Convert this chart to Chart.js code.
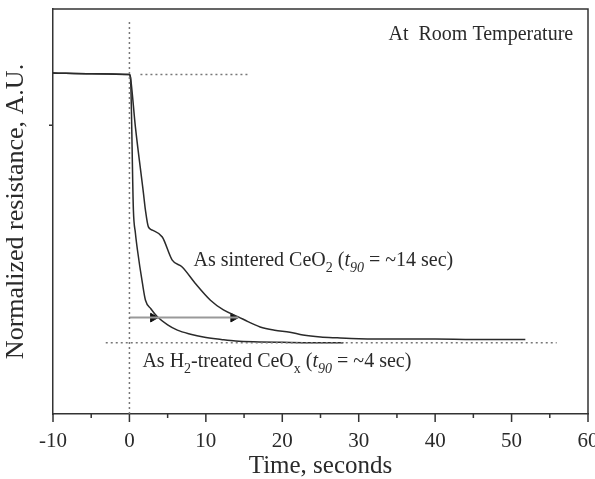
<!DOCTYPE html>
<html>
<head>
<meta charset="utf-8">
<script src="https://cdn.jsdelivr.net/npm/chart.js@4/dist/chart.umd.min.js"></script>
<style>
  html, body { margin: 0; padding: 0; background: #fff; }
  #wrap { width: 595px; height: 479px; }
</style>
</head>
<body>
<div id="wrap"><canvas id="c"></canvas></div>
<script>
// values (y is normalized resistance, arbitrary units 0..1)
const xTicks = [-10, 0, 10, 20, 30, 40, 50, 60];
const yTickAt = 0.713;

const h2Time = [-10, -5, 0, 0.13, 0.52, 0.78, 1.05, 1.7, 2.1, 2.8, 3.66, 5, 6.27, 8, 9.67, 12, 13.9, 17, 20, 24, 28];
const h2Res  = [0.842, 0.840, 0.838, 0.832, 0.503, 0.447, 0.405, 0.323, 0.281, 0.26, 0.240, 0.22, 0.207, 0.197, 0.190, 0.184, 0.180, 0.178, 0.177, 0.176, 0.176];

const sinTime = [-10, -5, 0, 0.13, 0.78, 1.83, 2.09, 2.48, 3.0, 4.3, 5.6, 6.9, 8.6, 10.6, 12.3, 14.25, 15.5, 17.1, 19, 21.0, 22.7, 25, 27.2, 30, 35.4, 40, 45, 51.8];
const sinRes  = [0.842, 0.840, 0.838, 0.832, 0.709, 0.546, 0.504, 0.462, 0.454, 0.437, 0.380, 0.363, 0.323, 0.281, 0.257, 0.240, 0.228, 0.215, 0.207, 0.202, 0.195, 0.19, 0.188, 0.186, 0.185, 0.185, 0.184, 0.184];

// guide lines
const zeroLine = [[0, 0.968], [0, 0]];
const topGuide = [[1.44, 0.838], [15.8, 0.838]];
const baseGuide = [[-3.1, 0.176], [55.9, 0.176]];
const t90Line = [[0, 0.238], [14.25, 0.238]];
const t90Heads = [[3.1, 0.238], [13.6, 0.238]];

const serif = "'Liberation Serif', 'DejaVu Serif', serif";
const ink = "#2a2a2a";

function pts(xs, ys) {
  return xs.map((x, i) => ({ x: x, y: ys[i] }));
}
function pairs(a) {
  return a.map((p) => ({ x: p[0], y: p[1] }));
}

// text with sub/italic pieces
function drawRich(ctx, x, y, parts, size) {
  let cx = x;
  for (const [txt, st] of parts) {
    const sub = st === "sub" || st === "isub";
    const ital = st === "i" || st === "isub";
    const fs = sub ? Math.round(size * 0.68) : size;
    ctx.font = (ital ? "italic " : "") + fs + "px " + serif;
    ctx.fillText(txt, cx, sub ? y + size * 0.28 : y);
    cx += ctx.measureText(txt).width;
  }
}

const extras = {
  id: "extras",
  afterDraw(chart) {
    const { ctx, chartArea: a, scales } = chart;
    const xs = scales.x, ys = scales.y;
    ctx.save();
    ctx.strokeStyle = "#333";
    ctx.lineWidth = 1.5;
    // frame top + right
    ctx.beginPath();
    ctx.moveTo(a.left, a.top);
    ctx.lineTo(a.right, a.top);
    ctx.lineTo(a.right, a.bottom);
    ctx.stroke();
    // x ticks (outward)
    ctx.beginPath();
    for (let v = -10; v <= 60; v += 5) {
      const px = xs.getPixelForValue(v);
      const len = v % 10 === 0 ? 8 : 4;
      ctx.moveTo(px, a.bottom);
      ctx.lineTo(px, a.bottom + len);
    }
    // y tick
    const py = ys.getPixelForValue(yTickAt);
    ctx.moveTo(a.left, py);
    ctx.lineTo(a.left - 4, py);
    ctx.stroke();

    ctx.fillStyle = ink;
    ctx.textBaseline = "alphabetic";
    ctx.textAlign = "right";
    ctx.font = "20px " + serif;
    ctx.fillText("At  Room Temperature", xs.getPixelForValue(58.06), ys.getPixelForValue(0.923));
    ctx.textAlign = "left";
    drawRich(ctx, xs.getPixelForValue(8.39), ys.getPixelForValue(0.365), [
      ["As sintered CeO", "n"], ["2", "sub"], [" (", "n"], ["t", "i"], ["90", "isub"], [" = ~14 sec)", "n"]
    ], 20);
    drawRich(ctx, xs.getPixelForValue(1.7), ys.getPixelForValue(0.116), [
      ["As H", "n"], ["2", "sub"], ["-treated CeO", "n"], ["x", "sub"], [" (", "n"], ["t", "i"], ["90", "isub"], [" = ~4 sec)", "n"]
    ], 20);
    ctx.restore();
  }
};

const dotted = { borderColor: "#777", borderWidth: 1.5, borderDash: [2, 3], pointRadius: 0, fill: false };

new Chart(document.getElementById("c"), {
  type: "scatter",
  data: {
    datasets: [
      Object.assign({ data: pairs(zeroLine), showLine: true }, dotted),
      Object.assign({ data: pairs(topGuide), showLine: true }, dotted),
      Object.assign({ data: pairs(baseGuide), showLine: true }, dotted),
      {
        data: pairs(t90Line), showLine: true, borderColor: "#999", borderWidth: 2, pointRadius: 0
      },
      {
        data: pts(sinTime, sinRes), showLine: true, borderColor: ink, borderWidth: 1.5,
        pointRadius: 0, cubicInterpolationMode: "monotone"
      },
      {
        data: pts(h2Time, h2Res), showLine: true, borderColor: ink, borderWidth: 1.5,
        pointRadius: 0, cubicInterpolationMode: "monotone"
      },
      {
        data: pairs(t90Heads), showLine: false, pointStyle: "triangle", rotation: 90,
        pointRadius: 5, backgroundColor: "#111", borderColor: "#111", borderWidth: 1
      }
    ]
  },
  options: {
    responsive: true,
    maintainAspectRatio: false,
    animation: false,
    layout: { padding: { top: 9, right: 7, left: 0, bottom: 0 } },
    plugins: { legend: { display: false }, tooltip: { enabled: false } },
    scales: {
      x: {
        type: "linear",
        min: -10,
        max: 60,
        afterBuildTicks: (s) => { s.ticks = xTicks.map((v) => ({ value: v })); },
        afterFit: (s) => { s.height = 65; s.paddingLeft = 0; s.paddingRight = 0; },
        grid: { display: false },
        border: { color: "#333", width: 1.5 },
        ticks: { color: ink, padding: 7, font: { family: serif, size: 21 } },
        title: {
          display: true, text: "Time, seconds", color: ink,
          font: { family: serif, size: 25, lineHeight: 1.0 }, padding: { top: 0, bottom: 0 }
        }
      },
      y: {
        type: "linear",
        min: 0,
        max: 1,
        afterFit: (s) => { s.width = 53; },
        grid: { display: false },
        border: { color: "#333", width: 1.5 },
        ticks: { display: false },
        title: {
          display: true, text: "Normalized resistance, A.U.", color: ink,
          font: { family: serif, size: 26, lineHeight: 1.0 }, padding: { top: 3, bottom: 0 }
        }
      }
    }
  },
  plugins: [extras]
});
</script>
</body>
</html>
